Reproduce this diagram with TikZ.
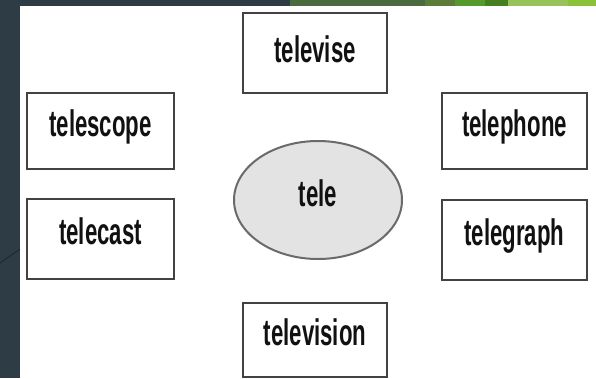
\documentclass[tikz,border=0pt]{standalone}
\usepackage{fontspec}
\usepackage{graphicx}
\setmainfont{Liberation Sans}
\usetikzlibrary{shapes.geometric}
\definecolor{slate}{HTML}{2D3C45}
\definecolor{slateline}{HTML}{1C272D}
\definecolor{boxline}{HTML}{424242}
\definecolor{ellfill}{HTML}{E3E3E3}
\definecolor{ellline}{HTML}{6A6A6A}
\definecolor{txt}{HTML}{111111}
\definecolor{gA}{HTML}{4B6A3E}
\definecolor{gB}{HTML}{5C7D38}
\definecolor{gC}{HTML}{549A2C}
\definecolor{gD}{HTML}{44801F}
\definecolor{gE}{HTML}{98C25A}
\definecolor{gF}{HTML}{8CC23A}
\newcommand{\wordlabel}[1]{\scalebox{0.6}[1]{#1}}
\tikzset{
  wordbox/.style={draw=boxline, line width=2.2pt, fill=white, rectangle,
    text=txt, font=\bfseries\fontsize{37}{37}\selectfont,
    text height=26pt, text depth=16pt, inner sep=0pt},
  rootell/.style={draw=ellline, line width=2pt, fill=ellfill, ellipse,
    text=txt, font=\bfseries\fontsize{37}{37}\selectfont,
    text height=26pt, text depth=14pt, inner sep=0pt,
    minimum width=168pt, minimum height=118pt}
}
\begin{document}
\begin{tikzpicture}[x=1pt,y=-1pt]
\useasboundingbox (0,0) rectangle (596,378);
% slide background
\fill[slate] (0,0) rectangle (596,378);
\fill[white] (20,6) rectangle (596,378);
% green strip at the top
\fill[gA] (290,0) rectangle (425,6);
\fill[gB] (425,0) rectangle (455,6);
\fill[gC] (455,0) rectangle (485,6);
\fill[gD] (485,0) rectangle (508,6);
\fill[gE] (508,0) rectangle (568,6);
\fill[gF] (568,0) rectangle (596,6);
\draw[slateline, line width=0.8pt] (0,263) -- (20,249);
% nodes
\node[wordbox, text depth=8pt, minimum width=144pt, minimum height=80pt] (televise) at (315,53) {\wordlabel{televise}};
\node[wordbox, minimum width=147pt, minimum height=76pt] (telescope) at (100.5,131) {\wordlabel{telescope}};
\node[wordbox, minimum width=147pt, minimum height=80pt] (telecast) at (100.5,239) {\wordlabel{telecast}};
\node[wordbox, minimum width=145pt, minimum height=76pt] (telephone) at (514.5,131) {\wordlabel{telephone}};
\node[wordbox, minimum width=145pt, minimum height=80pt] (telegraph) at (514.5,240) {\wordlabel{telegraph}};
\node[wordbox, minimum width=144pt, minimum height=74pt] (television) at (315,340) {\wordlabel{television}};
\node[rootell] (tele) at (318,200) {\wordlabel{tele}};
\end{tikzpicture}
\end{document}
